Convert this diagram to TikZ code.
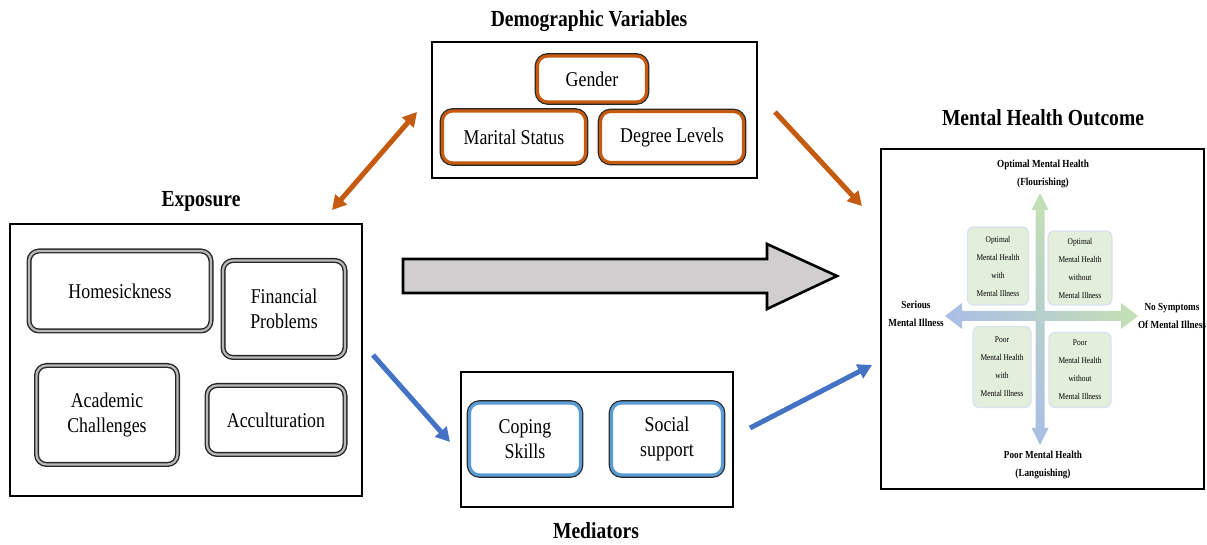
\documentclass[tikz,border=0pt]{standalone}
\usepackage{fontspec}
\setmainfont[FakeStretch=0.85]{Liberation Serif}
\usetikzlibrary{positioning, calc, arrows.meta}
\definecolor{demoline}{HTML}{C55A11}
\definecolor{mediline}{HTML}{5B9BD5}
\definecolor{arrowblue}{HTML}{4472C4}
\definecolor{quadfill}{HTML}{E2EFDA}
\definecolor{quadline}{HTML}{D9E1F2}
\definecolor{axisgreen}{HTML}{C5E0B4}
\definecolor{axisblue}{HTML}{A9BDE6}
\definecolor{flowgray}{HTML}{D0CECE}

\begin{document}
\begin{tikzpicture}[
    x=0.5pt, y=-0.5pt,
    font=\fontsize{10.5}{12.5}\selectfont,
    frame/.style={draw, line width=1pt, inner sep=0pt},
    title/.style={font=\fontsize{11.5}{13}\selectfont\bfseries},
    item/.style={rounded corners=5pt, align=center, inner sep=0pt},
    expoitem/.style={item, draw=black!85, double=gray!55, double distance=1.1pt, line width=0.7pt},
    demoitem/.style={item, preaction={draw=black!85, line width=2.8pt}, fill=white, draw=demoline, line width=1.6pt},
    mediitem/.style={item, preaction={draw=black!85, line width=2.8pt}, fill=white, draw=mediline, line width=1.6pt},
    quad/.style={rounded corners=3pt, fill=quadfill, draw=quadline, line width=0.6pt,
        align=center, inner sep=0pt, font=\fontsize{4.4}{9}\selectfont},
    axislabel/.style={align=center, inner sep=0pt, font=\fontsize{5.4}{9}\selectfont\bfseries},
    link/.style={line width=2.5pt, -{Triangle[length=7pt, width=7.5pt]}},
    both/.style={line width=2.5pt, {Triangle[length=7pt, width=7.5pt]}-{Triangle[length=7pt, width=7.5pt]}}
]
\useasboundingbox (0,0) rectangle (1207,545);

% outer frames
\node[frame, minimum width=162.5pt, minimum height=68pt] (demo) at (594.5,110) {};
\node[frame, minimum width=176pt, minimum height=136pt] (expo) at (186,360) {};
\node[frame, minimum width=136pt, minimum height=67.5pt] (medi) at (597,439.5) {};
\node[frame, minimum width=161.5pt, minimum height=170pt] (mho) at (1042.5,319) {};

% titles
\node[title] (demotitle) at (589,21) {Demographic Variables};
\node[title] (expotitle) at (201,201) {Exposure};
\node[title] (mhotitle) at (1043,118) {Mental Health Outcome};
\node[title] (meditile) at (596,531) {Mediators};

% demographic variables
\node[demoitem, minimum width=54.5pt, minimum height=23pt] (gender) at (592,79) {Gender};
\node[demoitem, minimum width=71.5pt, minimum height=26pt] (marital) at (514,137) {Marital Status};
\node[demoitem, minimum width=71.5pt, minimum height=25.5pt] (degree) at (672,137) {Degree Levels};

% exposure
\node[expoitem, minimum width=91pt, minimum height=40pt] (home) at (120,291) {Homesickness};
\node[expoitem, minimum width=61pt, minimum height=48.5pt] (finance) at (284,309) {Financial\\Problems};
\node[expoitem, minimum width=70.5pt, minimum height=49.5pt] (academic) at (107,415) {Academic\\Challenges};
\node[expoitem, minimum width=69pt, minimum height=34.5pt] (accult) at (276,420) {Acculturation};

% mediators
\node[mediitem, minimum width=55.5pt, minimum height=36pt] (coping) at (525,439) {Coping\\Skills};
\node[mediitem, minimum width=55.5pt, minimum height=36pt] (social) at (667,439) {Social\\support};

% mental health quadrants
\node[quad, minimum width=30.5pt, minimum height=39pt] (q1) at (998,266) {Optimal\\Mental Health\\with\\Mental Illness};
\node[quad, minimum width=32pt, minimum height=37pt] (q2) at (1080,268) {Optimal\\Mental Health\\without\\Mental Illness};
\node[quad, minimum width=29pt, minimum height=40.5pt] (q3) at (1002,367) {Poor\\Mental Health\\with\\Mental Illness};
\node[quad, minimum width=31pt, minimum height=37.5pt] (q4) at (1080,370) {Poor\\Mental Health\\without\\Mental Illness};

\shade[left color=axisblue, right color=axisgreen]
    (945,316) -- (962,303) -- (962,311) -- (1121,311) -- (1121,303) -- (1138,316)
    -- (1121,329) -- (1121,321) -- (962,321) -- (962,329) -- cycle;
\shade[top color=axisgreen, bottom color=axisblue]
    (1040,193) -- (1048.5,210) -- (1044.5,210) -- (1044.5,428) -- (1048.5,428) -- (1040,445)
    -- (1031.5,428) -- (1035.5,428) -- (1035.5,210) -- (1031.5,210) -- cycle;

\node[axislabel] (flourish) at (1043,174) {Optimal Mental Health\\(Flourishing)};
\node[axislabel] (languish) at (1043,465) {Poor Mental Health\\(Languishing)};
\node[axislabel] (serious) at (916,314) {Serious\\Mental Illness};
\node[axislabel] (nosympt) at (1172,316) {No Symptoms\\Of Mental Illness};

% main effect
\draw[fill=flowgray, line width=1.3pt, line join=miter]
    (403,259) -- (767,259) -- (767,244) -- (837,276) -- (767,309) -- (767,293) -- (403,293) -- cycle;

% connectors
\coordinate (o1) at (332,210);
\coordinate (o2) at (417,112);
\coordinate (o3) at (775,112);
\coordinate (o4) at (862,206);
\coordinate (b1) at (373,355);
\coordinate (b2) at (450,442);
\coordinate (b3) at (750,428);
\coordinate (b4) at (872,365);

\draw[both, demoline] (o1) -- (o2);
\draw[link, demoline] (o3) -- (o4);
\draw[link, arrowblue] (b1) -- (b2);
\draw[link, arrowblue] (b3) -- (b4);

\end{tikzpicture}
\end{document}
